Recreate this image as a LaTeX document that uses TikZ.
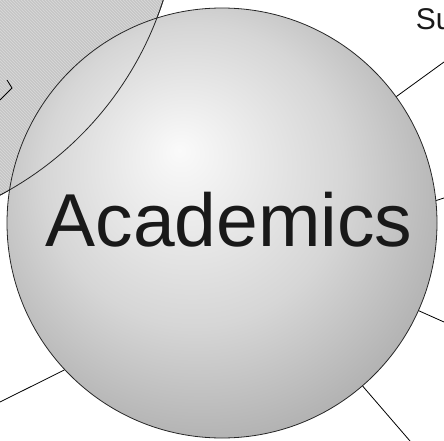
\documentclass[tikz,border=0pt]{standalone}
\usepackage{fontspec}
\setmainfont{Liberation Sans}
\usetikzlibrary{patterns}
\definecolor{acadlight}{RGB}{250,250,250}
\definecolor{acadmid}{RGB}{214,214,214}
\definecolor{acaddark}{RGB}{160,160,160}
\definecolor{hatchbase}{RGB}{198,198,198}
\definecolor{hatchline}{RGB}{218,218,218}
\pgfdeclareradialshading{acadball}{\pgfpoint{-5bp}{8.5bp}}{color(0bp)=(acadlight); color(17.5bp)=(acadmid); color(35bp)=(acaddark); color(50bp)=(acaddark)}

\begin{document}
\begin{tikzpicture}[x=1pt, y=-1pt, line width=0.8pt,
    main/.style = {draw=black!85, circle, minimum size=430pt, inner sep=0pt, shading=acadball},
    other/.style = {draw=black!85, circle, minimum size=672pt, inner sep=0pt, fill=hatchbase,
        postaction={pattern=north west lines, pattern color=hatchline}},
    big/.style = {font=\fontsize{75}{75}\selectfont, text=black!90},
    small/.style = {font=\fontsize{30}{30}\selectfont, text=black!90, inner sep=0pt}]
    \clip (0,0) rectangle (444,441);

    \node[other] (S) at (-157,-102) {};
    \node[main] (A) at (222,223) {};
    \draw[black!85] (S) circle[radius=336pt];
    \node[big] (lbl) at (229,220) {Academics};
    \node[small, anchor=base west] (su) at (415.5,30) {Su};

    \coordinate (p1) at (444,62);
    \coordinate (p2) at (444,198);
    \coordinate (p3) at (444,322);
    \coordinate (p4) at (410,441);
    \coordinate (p5) at (0,402);

    \draw (A) -- (p1);
    \draw (A.6.7) -- (p2);
    \draw (A) -- (p3);
    \draw (A) -- (p4);
    \draw (A.223) -- (p5);
    \draw (7,80) -- (12,88) -- (0,100);
\end{tikzpicture}
\end{document}
